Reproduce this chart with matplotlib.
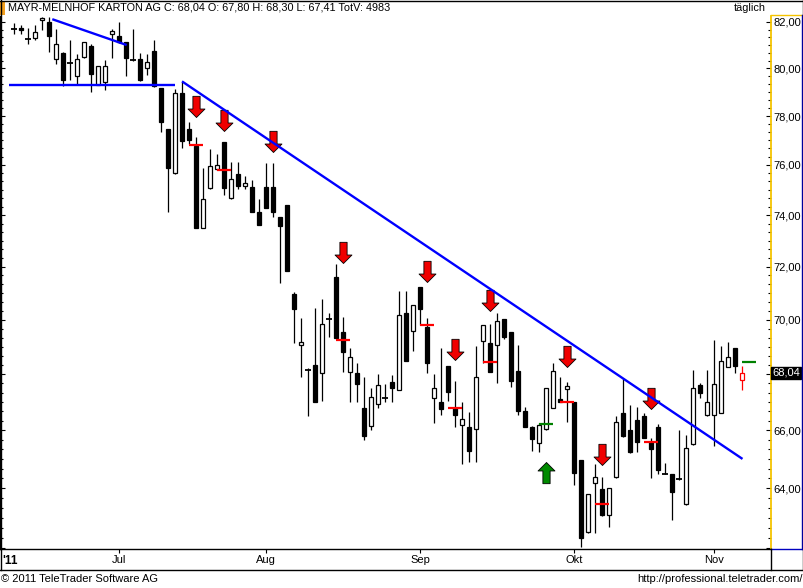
import numpy as np
import matplotlib
matplotlib.use("Agg")
import matplotlib.pyplot as plt
from matplotlib.path import Path
from matplotlib.lines import Line2D
from matplotlib.patches import Rectangle
from matplotlib.ticker import FixedLocator, FuncFormatter, NullFormatter
import matplotlib.transforms as mtransforms

plt.rcParams["font.family"] = ["Liberation Sans", "DejaVu Sans"]

W, H = 804, 588

TITLE = "MAYR-MELNHOF KARTON AG C: 68,04 O: 67,80 H: 68,30 L: 67,41 TotV: 4983"

# daily OHLC, one entry per trading day (mid June .. 8 Nov 2011)
opens = [81.70, 81.73, 81.26, 81.32, 82.07, 81.99, 80.40, 80.66, 80.23, 79.67,
         80.49, 80.95, 79.30, 79.41, 81.46, 81.38, 81.12, 80.37, 80.40, 80.00,
         80.74, 79.16, 77.45, 75.66, 78.95, 77.45, 76.77, 73.51, 75.06, 75.85,
         76.93, 74.66, 75.62, 75.15, 75.11, 74.12, 75.11, 75.11, 73.91, 74.39,
         70.96, 69.05, 68.15, 68.32, 68.05, 70.03, 71.59, 69.53, 68.07, 68.03,
         66.78, 66.14, 66.92, 67.15, 67.70, 67.42, 70.24, 69.57, 71.22, 69.72,
         67.13, 67.00, 68.29, 66.77, 66.18, 66.12, 66.03, 69.19, 69.12, 69.05,
         70.01, 69.54, 68.11, 66.67, 66.12, 65.55, 66.03, 66.78, 67.11, 67.47,
         66.99, 64.96, 62.51, 64.17, 63.96, 63.08, 64.37, 66.60, 66.01, 66.36,
         66.50, 65.57, 66.10, 64.48, 64.48, 64.30, 63.45, 65.51, 67.60, 66.52,
         66.52, 66.62, 68.27, 68.94, 67.80]
highs = [81.96, 81.87, 81.74, 81.87, 82.22, 82.22, 81.70, 80.71, 81.23, 80.60,
         81.14, 81.03, 80.12, 80.37, 81.70, 82.00, 81.15, 81.70, 80.66, 80.60,
         81.23, 79.17, 77.46, 79.12, 79.43, 77.75, 77.12, 75.86, 76.63, 76.44,
         76.95, 76.13, 76.12, 75.55, 75.39, 74.64, 76.07, 76.09, 73.92, 74.40,
         71.04, 70.05, 68.22, 70.42, 70.76, 70.23, 72.10, 70.09, 68.96, 68.39,
         67.90, 67.49, 68.01, 67.64, 67.97, 71.07, 71.07, 70.55, 71.23, 70.05,
         68.01, 68.94, 68.30, 67.75, 66.99, 66.65, 69.02, 69.80, 69.84, 70.24,
         70.02, 69.55, 69.05, 66.83, 66.13, 66.25, 67.50, 68.39, 67.91, 67.73,
         67.00, 64.97, 63.80, 64.82, 64.39, 64.00, 66.50, 67.84, 66.88, 66.82,
         66.60, 65.72, 66.22, 64.87, 64.49, 66.01, 65.84, 68.15, 67.69, 68.15,
         69.25, 69.02, 69.17, 68.95, 68.30]
lows = [81.48, 81.48, 81.06, 81.23, 81.64, 80.71, 80.20, 79.24, 79.52, 79.33,
        80.43, 78.99, 79.28, 79.10, 80.43, 81.09, 79.69, 80.30, 79.48, 79.72,
        79.22, 77.35, 74.13, 75.64, 76.68, 76.86, 73.48, 73.49, 75.05, 75.80,
        74.78, 74.65, 75.05, 75.02, 74.12, 73.61, 74.28, 73.94, 71.36, 71.83,
        69.12, 67.91, 66.50, 67.00, 67.04, 69.35, 69.30, 68.07, 67.01, 67.01,
        65.64, 66.02, 66.80, 67.01, 67.01, 67.41, 68.48, 68.85, 69.81, 68.05,
        66.25, 66.52, 67.05, 66.12, 64.82, 64.91, 64.91, 68.39, 68.06, 67.67,
        69.29, 67.52, 66.52, 66.11, 65.29, 65.25, 66.02, 66.77, 67.00, 66.30,
        64.11, 62.04, 62.48, 62.48, 63.07, 62.70, 64.36, 65.77, 65.22, 65.25,
        65.71, 64.34, 64.49, 64.47, 62.93, 64.29, 63.44, 65.50, 67.15, 66.51,
        65.45, 66.61, 68.26, 68.05, 67.41]
closes = [81.70, 81.64, 81.26, 81.55, 82.16, 81.38, 81.03, 79.52, 80.23, 80.40,
          81.12, 79.78, 80.09, 80.09, 81.61, 81.13, 80.46, 80.37, 79.50, 80.26,
          79.24, 77.77, 75.89, 78.95, 76.99, 77.03, 73.51, 74.62, 75.96, 75.98,
          75.09, 75.43, 75.15, 75.26, 74.13, 73.62, 74.29, 74.13, 73.58, 71.84,
          70.39, 69.18, 68.15, 67.01, 69.83, 70.03, 69.31, 68.79, 68.61, 67.64,
          65.78, 67.17, 67.59, 67.15, 67.51, 70.16, 68.49, 70.53, 70.39, 68.39,
          67.49, 66.74, 67.37, 66.52, 66.39, 65.29, 67.91, 69.79, 68.07, 69.94,
          69.37, 67.76, 66.69, 66.12, 65.70, 66.18, 67.49, 68.10, 67.01, 67.56,
          64.51, 62.32, 63.79, 64.39, 63.08, 63.99, 66.28, 65.78, 65.25, 65.60,
          65.72, 65.36, 64.61, 64.48, 63.88, 64.30, 65.37, 67.49, 67.31, 66.99,
          67.64, 68.46, 68.61, 68.30, 68.04]

# month starts (trading-day index)
month_idx = [15, 36, 58, 80, 100]
month_lbl = ["Jul", "Aug", "Sep", "Okt", "Nov"]

# sell signals: arrow tip price, and entry dash level
sell_idx = [26, 30, 37, 47, 59, 63, 68, 79, 84, 91]
sell_tip = [77.95, 77.37, 76.51, 72.13, 71.40, 68.51, 70.30, 68.25, 64.79, 66.75]
dash_idx = [26, 30, 47, 59, 63, 68, 79, 84, 91]
dash_lvl = [76.82, 75.81, 69.26, 69.80, 66.80, 68.43, 66.98, 63.47, 65.57]
# buy signal
buy_idx = [76]
buy_tip = [64.91]
gdash_idx = [76, 105]
gdash_lvl = [66.22, 68.43]

# hand drawn trend lines (x index, price)
trend_lines = [
    ([5.47, 16.1], [82.12, 81.00]),
    ([-0.7, 23.0], [79.30, 79.30]),
    ([24.0, 104.07], [79.45, 65.00]),
]

last_price = 68.04


def fx(px):
    return px / W


def fy(py):
    return 1 - py / H


fig = plt.figure(figsize=(W / 100, H / 100), dpi=100)
fig.patch.set_facecolor("white")
ax = fig.add_axes([0, fy(549), fx(771), (549 - 16) / H])
ax.set_yscale("log")

o = np.array(opens)
hh = np.array(highs)
ll = np.array(lows)
c = np.array(closes)
x = np.arange(len(o))
n = len(o) - 1  # last bar drawn in red

up = (c > o + 0.005)
dn = (c < o - 0.005)
dj = ~up & ~dn
up[n] = dn[n] = dj[n] = False

ax.vlines(x[:n], ll[:n], hh[:n], color="black", lw=0.9, zorder=2)
ax.bar(x[up], c[up] - o[up], bottom=o[up], width=0.62, facecolor="white",
       edgecolor="black", lw=0.9, zorder=3)
ax.bar(x[dn], o[dn] - c[dn], bottom=c[dn], width=0.62, facecolor="black",
       edgecolor="black", lw=0.9, zorder=3)
ax.hlines(o[dj], x[dj] - 0.38, x[dj] + 0.38, color="black", lw=1.3, zorder=3)
# last bar
ax.vlines(x[n], ll[n], hh[n], color="#FF0000", lw=0.9, zorder=2)
ax.bar(x[n], c[n] - o[n], bottom=o[n], width=0.62, facecolor="white",
       edgecolor="#FF0000", lw=0.9, zorder=3)

# arrows
dn_arrow = Path([(0, 0), (-8, 8), (-3.4, 8), (-3.4, 20), (3.4, 20), (3.4, 8),
                 (8, 8), (0, 0)], closed=True)
up_arrow = Path([(0, 0), (-8, -8), (-3.4, -8), (-3.4, -20), (3.4, -20),
                 (3.4, -8), (8, -8), (0, 0)], closed=True)
ax.plot(sell_idx, sell_tip, ls="none", marker=dn_arrow, ms=30.5,
        mfc="#F00000", mec="black", mew=0.6, zorder=4)
ax.plot(buy_idx, buy_tip, ls="none", marker=up_arrow, ms=30.5,
        mfc="#008A00", mec="black", mew=0.6, zorder=4)

ax.hlines(dash_lvl, np.array(dash_idx) - 1, np.array(dash_idx) + 1,
          color="#FF0000", lw=1.6, zorder=5)
ax.hlines(gdash_lvl, np.array(gdash_idx) - 1, np.array(gdash_idx) + 1,
          color="#008000", lw=1.6, zorder=5)

for xs, ys in trend_lines:
    ax.plot(xs, ys, color="#0000FF", lw=1.7, zorder=6, solid_capstyle="butt")

ax.set_xlim(-2.0, 108.14)
ax.set_ylim(61.96, 82.26)

# y axis: right labels, ticks both sides pointing in
ax.yaxis.set_major_locator(FixedLocator(np.arange(62, 83, 2)))
ax.yaxis.set_minor_locator(FixedLocator(np.arange(62, 82.4, 1 / 3)))
ax.yaxis.set_major_formatter(FuncFormatter(
    lambda v, p: "" if round(v) in (62, 68) else f"{v:.2f}".replace(".", ",")))
ax.yaxis.set_minor_formatter(NullFormatter())
ax.tick_params(axis="y", which="both", left=True, right=True, labelleft=False,
               labelright=True, direction="in", color="black", width=0.8,
               labelsize=8, pad=2)
ax.tick_params(axis="y", which="major", length=3.5)
ax.tick_params(axis="y", which="minor", length=2)

ax.set_xticks(month_idx)
ax.set_xticklabels(month_lbl)
ax.tick_params(axis="x", which="major", direction="out", length=3, width=0.8,
               labelsize=8, pad=1.5)
ax.xaxis.set_minor_locator(FixedLocator([]))

ax.spines["top"].set_visible(False)
for s in ("left", "bottom"):
    ax.spines[s].set_color("black")
    ax.spines[s].set_linewidth(1.0)
ax.spines["right"].set_color("#F5C400")
ax.spines["right"].set_linewidth(1.3)

# current price box on right axis
trans = mtransforms.blended_transform_factory(ax.transAxes, ax.transData)
ax.text(1.0015, last_price, "68,04", transform=trans, ha="left", va="center",
        color="white", fontsize=8, zorder=10,
        bbox=dict(boxstyle="square,pad=0.12", fc="black", ec="black"))

# header
fig.add_artist(Rectangle((fx(0), fy(15)), fx(5), 14 / H, transform=fig.transFigure,
                         fc="#F29F1F", ec="none"))
fig.text(fx(8), fy(8), TITLE, ha="left", va="center", fontsize=7.8)
fig.text(fx(766), fy(8), "täglich", ha="right", va="center", fontsize=7.8)

# right panel box and outer frame
for (x0, y0, x1, y1, col) in [
    (771, 15, 802, 15, "#F5C400"),
    (802, 15, 802, 549, "#0000C0"),
    (771, 549, 802, 549, "#0000C0"),
    (0, 0.5, 803, 0.5, "black"),
    (0.5, 0, 0.5, 570, "black"),
    (803, 0, 803, 570, "black"),
    (0, 570, 803, 570, "black"),
    (771, 549, 771, 570, "black"),
]:
    fig.add_artist(Line2D([fx(x0), fx(x1)], [fy(y0), fy(y1)], color=col, lw=1.0,
                          transform=fig.transFigure))

fig.text(fx(2), fy(561), "'11", ha="left", va="center", fontsize=8.5,
         fontweight="bold")
fig.text(fx(1), fy(579), "© 2011 TeleTrader Software AG", ha="left",
         va="center", fontsize=8)
fig.text(fx(803), fy(579), "http://professional.teletrader.com/", ha="right",
         va="center", fontsize=8)

fig.savefig("out.png", dpi=100, facecolor="white")
